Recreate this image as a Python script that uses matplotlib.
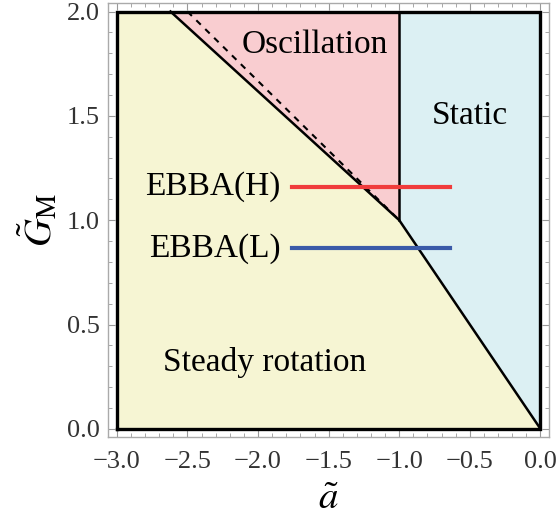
import numpy as np
import matplotlib.pyplot as plt
from matplotlib.ticker import MultipleLocator

# phase boundaries
steady_x = [-3.0, -2.62, -1.0, 0.0, -3.0]
steady_y = [2.0, 2.0, 1.0, 0.0, 0.0]
osc_x = [-2.62, -1.0, -1.0, -2.62]
osc_y = [2.0, 2.0, 1.0, 2.0]
static_x = [-1.0, 0.0, 0.0, -1.0, -1.0]
static_y = [2.0, 2.0, 0.0, 1.0, 2.0]
dash_x = [-2.5, -1.0]
dash_y = [2.0, 1.0]

# experiment lines
ebba_names = ['EBBA(H)', 'EBBA(L)']
ebba_G = [1.16, 0.865]
ebba_a = [-1.76, -0.64]
ebba_colors = ['#f03c3c', '#3a5aa8']

plt.rcParams['font.family'] = ['Liberation Serif', 'DejaVu Serif']
plt.rcParams['mathtext.fontset'] = 'stix'

fig = plt.figure(figsize=(5.57, 5.28), dpi=100)
ax = fig.add_axes([0.194, 0.172, 0.792, 0.822])

ax.fill(steady_x, steady_y, color='#f6f5d3', lw=0)
ax.fill(osc_x, osc_y, color='#f9cdd0', lw=0)
ax.fill(static_x, static_y, color='#dcf0f3', lw=0)

# outer boundary and phase lines
ax.plot([-3, 0, 0, -3, -3], [0, 0, 2, 2, 0], color='black', lw=2.4, solid_joinstyle='miter')
ax.plot([-2.62, -1.0, 0.0], [2.0, 1.0, 0.0], color='black', lw=1.8)
ax.plot([-1.0, -1.0], [1.0, 2.0], color='black', lw=1.8)
ax.plot(dash_x, dash_y, color='black', lw=1.5, ls=(0, (3, 3)))

for name, g, c in zip(ebba_names, ebba_G, ebba_colors):
    ax.plot(ebba_a, [g, g], color=c, lw=3)
    ax.text(ebba_a[0] - 0.08, g, name, fontsize=24, ha='right', va='center')

ax.text(-1.6, 1.84, 'Oscillation', fontsize=24, ha='center', va='center')
ax.text(-0.5, 1.5, 'Static', fontsize=24, ha='center', va='center')
ax.text(-1.95, 0.32, 'Steady rotation', fontsize=24, ha='center', va='center')

ax.set_xlim(-3.062, 0.062)
ax.set_ylim(-0.04, 2.04)
ax.xaxis.set_major_locator(MultipleLocator(0.5))
ax.xaxis.set_minor_locator(MultipleLocator(0.1))
ax.yaxis.set_major_locator(MultipleLocator(0.5))
ax.yaxis.set_minor_locator(MultipleLocator(0.1))
ax.xaxis.set_major_formatter(plt.FuncFormatter(lambda v, p: f'{v:.1f}'.replace('-', '\u2212')))
ax.yaxis.set_major_formatter(plt.FuncFormatter(lambda v, p: f'{v:.1f}'))
ax.tick_params(which='both', direction='in', top=True, right=True, color='#999999',
               labelsize=19, labelcolor='#333333')
ax.tick_params(which='major', length=5, width=0.8, pad=6)
ax.tick_params(axis='x', which='major', pad=10)
ax.tick_params(which='minor', length=3, width=0.6)
for s in ax.spines.values():
    s.set_color('#aaaaaa')
    s.set_linewidth(1.0)

ax.set_xlabel(r'$\tilde{a}$', fontsize=28, labelpad=6)
ax.set_ylabel(r'$\tilde{G}_{\mathrm{M}}$', fontsize=28, labelpad=4)

fig.savefig('out.png', dpi=100)
